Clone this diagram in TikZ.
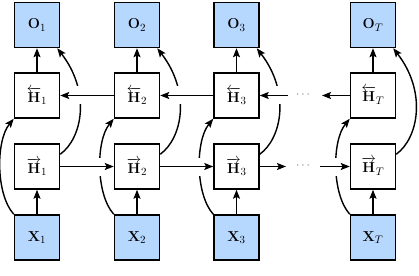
\documentclass[tikz,border=0pt]{standalone}
\usepackage{amsmath}
\usetikzlibrary{arrows.meta}
\definecolor{lblue}{RGB}{182,216,255}
\begin{document}
\begin{tikzpicture}[x=1pt,y=-1pt,
  box/.style={draw, line width=1.5pt, minimum size=45pt, inner sep=0pt,
              font=\fontsize{15}{18}\selectfont},
  io/.style={box, fill=lblue},
  arr/.style={line width=1.4pt, -{Stealth[length=9pt,width=7pt,inset=1.8pt]}},
  gap/.style={preaction={draw=white, line width=18pt, arrows=-}},
  dots/.style={text=black!55, font=\fontsize{12}{14}\selectfont}
]
\fill[white] (0,0) rectangle (419,275);
\useasboundingbox (0,0) rectangle (419,275);
\foreach \i/\x/\s in {1/37/1,2/137/2,3/236.5/3,4/373/T}{
  \node[io]  (O\i)  at (\x,25)    {$\mathbf{O}_{\s}$};
  \node[box] (Hb\i) at (\x,95.5)  {$\overleftarrow{\mathbf{H}}_{\s}$};
  \node[box] (Hf\i) at (\x,166.5) {$\overrightarrow{\mathbf{H}}_{\s}$};
  \node[io]  (X\i)  at (\x,237.5) {$\mathbf{X}_{\s}$};
  \draw[arr] (X\i) -- (Hf\i);
  \draw[arr] (Hb\i) -- (O\i);
  \draw[arr] (X\i.north west) .. controls +(-18,-20) and +(-18,22) .. (Hb\i.south west);
  \draw[arr] ([yshift=-11pt]Hf\i.north east) .. controls +(22,-16) and +(34,44) .. ([xshift=-3pt]O\i.south east);
}
\coordinate (bd1) at (288,95.5);
\coordinate (bd2) at (322,95.5);
\coordinate (fd1) at (286,166.5);
\coordinate (fd2) at (320,166.5);
\node[dots] (dotb) at (304,95) {$\cdots$};
\node[dots] (dotf) at (304,166) {$\cdots$};
\draw[arr,gap] (Hb2) -- (Hb1);
\draw[arr,gap] (Hb3) -- (Hb2);
\draw[arr,gap] (bd1) -- (Hb3);
\draw[arr,gap] (Hb4) -- (bd2);
\draw[arr,gap] (Hf1) -- (Hf2);
\draw[arr,gap] (Hf2) -- (Hf3);
\draw[arr,gap] (Hf3) -- (fd1);
\draw[arr,gap] (fd2) -- (Hf4);
\end{tikzpicture}
\end{document}
